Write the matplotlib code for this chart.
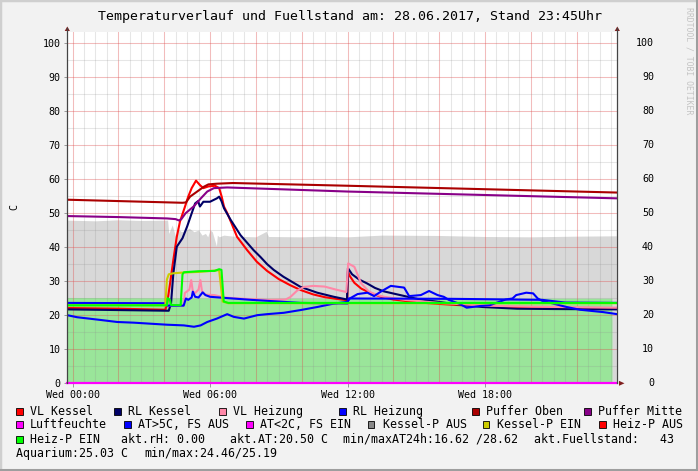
# -*- coding: utf-8 -*-
#
# RRDtool-Grafik nachbauen: Temperaturverlauf und Fuellstand
#

import matplotlib
matplotlib.use("Agg")
import matplotlib.pyplot as plt
import matplotlib.transforms as mtransforms
from matplotlib.lines import Line2D
from matplotlib.patches import Rectangle, Polygon

#======================================================================================================
### Daten (x = Stunden seit Mittwoch 00:00)
#======================================================================================================
x_ticks = [0, 6, 12, 18]
x_labels = ['Wed 00:00', 'Wed 06:00', 'Wed 12:00', 'Wed 18:00']
y_ticks = [0, 10, 20, 30, 40, 50, 60, 70, 80, 90, 100]

# Fuellstand (graue Flaeche)
fuell_h = [-0.23, 1.0, 2.0, 3.0, 4.15, 4.2, 4.35, 4.5, 4.6, 4.75, 4.9, 5.1, 5.3, 5.5, 5.65, 5.8,
           5.9, 6.0, 6.1, 6.28, 6.32, 6.4, 6.6, 7.0, 8.0, 8.45, 8.55, 10.0, 11.0, 12.0, 13.5,
           16.0, 18.0, 20.0, 22.0, 23.73]
fuell_v = [47.9, 47.7, 48.0, 47.8, 47.9, 44.0, 46.5, 43.0, 45.5, 44.5, 44.8, 45.5, 44.5, 45.0,
           43.5, 44.0, 43.0, 45.0, 44.5, 40.3, 43.5, 43.0, 43.5, 43.2, 43.0, 44.6, 43.1, 43.0,
           43.2, 43.0, 43.5, 43.4, 43.1, 43.0, 43.2, 43.3]

# Aquarium (gruene Flaeche)
aqua_h = [-0.23, 4.0, 8.0, 12.0, 16.0, 20.0, 23.54]
aqua_v = [25.2, 25.1, 25.0, 25.0, 25.1, 25.0, 25.0]

vl_kessel_h = [-0.23, 2.0, 4.05, 4.12, 4.25, 4.4, 4.55, 4.69, 4.91, 5.05, 5.2, 5.39, 5.56, 5.71,
               5.93, 6.22, 6.4, 6.51, 6.61, 6.75, 6.95, 7.18, 7.62, 8.04, 8.49, 9.0, 9.5, 9.95,
               10.5, 11.0, 11.5, 11.98, 12.02, 12.1, 12.3, 12.6, 13.0, 13.5, 14.0, 15.0, 16.0,
               17.0, 18.0, 19.0, 20.0, 21.0, 22.0, 23.0, 23.77]
vl_kessel_v = [22.1, 21.9, 21.6, 23.0, 29.0, 36.2, 43.0, 47.5, 51.9, 54.8, 57.3, 59.5, 58.2, 57.3,
               57.8, 58.0, 57.3, 54.8, 51.9, 50.0, 46.8, 43.0, 39.1, 35.7, 33.0, 30.6, 28.8, 27.4,
               26.1, 25.3, 24.8, 24.4, 32.8, 31.5, 29.5, 27.8, 26.5, 25.3, 24.6, 23.8, 23.3,
               22.9, 22.6, 22.4, 22.3, 22.2, 22.1, 22.1, 22.0]

rl_kessel_h = [-0.23, 2.0, 4.2, 4.3, 4.4, 4.55, 4.8, 5.0, 5.2, 5.35, 5.48, 5.56, 5.71, 6.0, 6.3,
               6.4, 6.5, 6.61, 6.9, 7.33, 7.9, 8.2, 8.49, 8.78, 9.2, 9.95, 10.68, 11.4, 11.98,
               12.02, 12.2, 12.5, 12.86, 13.2, 13.58, 14.3, 15.03, 16.5, 17.9, 19.4, 21.0, 23.77]
rl_kessel_v = [21.7, 21.5, 21.3, 23.5, 32.2, 40.1, 42.6, 46.0, 49.9, 52.8, 53.5, 51.9, 53.3, 53.3,
               54.3, 54.8, 53.5, 51.4, 48.0, 43.5, 39.1, 37.1, 35.0, 33.3, 31.3, 28.3, 26.6, 25.4,
               24.6, 33.8, 32.0, 30.5, 29.3, 28.0, 27.0, 25.9, 24.8, 23.4, 22.4, 21.9, 21.8, 21.7]

vl_heizung_h = [-0.23, 4.1, 4.15, 4.85, 4.9, 5.0, 5.1, 5.18, 5.25, 5.35, 5.5, 5.58, 5.65, 5.8,
                6.2, 6.6, 7.5, 8.5, 9.3, 9.5, 9.8, 10.1, 10.5, 11.0, 11.5, 11.95, 12.03, 12.3,
                12.6, 12.94, 13.3, 13.6, 14.5, 16.0, 18.0, 20.0, 23.77]
vl_heizung_v = [23.5, 23.5, 22.8, 22.8, 26.5, 27.0, 27.5, 30.3, 27.0, 26.5, 27.5, 30.3, 27.0, 26.0,
                25.9, 25.2, 24.8, 24.5, 24.6, 25.3, 27.2, 28.3, 28.6, 28.4, 27.5, 26.8, 35.2, 34.2,
                29.3, 26.9, 25.9, 25.4, 24.5, 23.6, 22.8, 22.5, 22.2]

rl_heizung_h = [-0.23, 4.1, 4.15, 4.85, 4.95, 5.05, 5.2, 5.25, 5.35, 5.5, 5.68, 5.8, 6.0, 6.58,
                7.8, 9.95, 12.0, 12.05, 16.5, 20.5, 21.5, 23.77]
rl_heizung_v = [23.6, 23.5, 22.8, 22.8, 24.9, 24.5, 25.2, 26.9, 25.4, 25.2, 26.7, 25.9, 25.4, 25.1,
                24.5, 23.6, 23.4, 24.9, 24.8, 24.5, 23.7, 23.6]

puffer_oben_h = [-0.23, 4.8, 4.95, 5.13, 5.44, 5.73, 5.93, 6.3, 7.0, 12.0, 17.9, 23.77]
puffer_oben_v = [53.9, 53.0, 53.1, 54.8, 56.3, 57.7, 58.4, 58.6, 58.8, 58.0, 57.0, 56.0]

puffer_mitte_h = [-0.23, 2.0, 4.13, 4.5, 4.65, 4.75, 4.93, 5.3, 5.6, 5.88, 6.17, 6.75, 12.0, 17.9,
                  23.77]
puffer_mitte_v = [49.1, 48.8, 48.4, 48.2, 47.8, 48.2, 49.9, 52.0, 54.3, 56.3, 57.3, 57.5, 56.3,
                  55.3, 54.3]

luft_h = [-0.23, 23.77]
luft_v = [0.0, 0.0]

# Aussentemperatur
at_h = [-0.23, 0.2, 1.22, 1.95, 2.68, 3.4, 4.13, 4.86, 5.3, 5.59, 5.88, 6.3, 6.75, 7.04, 7.48,
        8.06, 8.49, 9.22, 9.95, 10.68, 11.4, 11.99, 12.1, 12.44, 12.87, 13.16, 13.45, 13.89,
        14.47, 14.69, 15.2, 15.56, 15.93, 16.2, 16.42, 16.9, 17.2, 17.8, 18.2, 18.9, 19.2,
        19.36, 19.8, 20.1, 20.3, 20.5, 20.98, 21.56, 22.14, 22.72, 23.16, 23.77]
at_v = [20.0, 19.4, 18.6, 18.0, 17.8, 17.5, 17.2, 17.0, 16.6, 17.0, 18.0, 19.0, 20.3, 19.5, 19.0,
        20.0, 20.3, 20.7, 21.5, 22.4, 23.4, 23.9, 24.9, 26.2, 26.6, 25.6, 26.9, 28.6,
        28.1, 25.6, 25.9, 27.1, 25.9, 25.4, 24.5, 23.3, 22.2, 22.7, 22.9, 24.6, 24.9,
        25.9, 26.6, 26.4, 24.9, 24.2, 23.4, 22.4, 21.6, 21.2, 20.9, 20.3]

kessel_p_h = [-0.23, 4.05, 4.12, 4.2, 4.4, 4.78, 5.5, 6.4, 6.55, 6.8, 23.77]
kessel_p_v = [22.9, 22.9, 30.5, 32.0, 32.3, 32.5, 32.7, 33.2, 24.0, 23.5, 23.5]

heiz_p_h = [-0.23, 4.12, 4.15, 4.25, 4.3, 4.72, 4.8, 4.86, 5.5, 6.2, 6.4, 6.5, 6.6, 6.8, 12.0, 23.77]
heiz_p_v = [22.9, 22.9, 25.0, 24.5, 23.0, 22.9, 32.0, 32.6, 32.9, 33.0, 33.5, 33.3, 24.0, 23.6,
            23.6, 23.6]

# Legende
legend_rows = [
    [('VL Kessel', '#FF0000', 16, 30), ('RL Kessel', '#000066', 114, 128),
     ('VL Heizung', '#FF88A8', 219, 233), ('RL Heizung', '#0000FF', 339, 353),
     ('Puffer Oben', '#AA0000', 472, 486), ('Puffer Mitte', '#880088', 584, 598)],
    [('Luftfeuchte', '#FF00FF', 16, 30), ('AT>5C, FS AUS', '#0000FF', 124, 138),
     ('AT<2C, FS EIN', '#FF00FF', 246, 260), ('Kessel-P AUS', '#888888', 368, 383),
     ('Kessel-P EIN', '#CCCC00', 483, 497), ('Heiz-P AUS', '#FF0000', 599, 613)],
]
info_row3 = [('akt.rH: 0.00', 121), ('akt.AT:20.50 C', 230),
             ('min/maxAT24h:16.62 /28.62', 343), ('akt.Fuellstand:   43', 534)]
info_row4 = [('Aquarium:25.03 C', 16), ('min/max:24.46/25.19', 144)]

#======================================================================================================
### Zeichnen
#======================================================================================================
W, H = 698, 471
plt.rcParams['font.family'] = 'DejaVu Sans Mono'

def fx(x):
    return x / W

def fy(y):
    return 1 - y / H

fig = plt.figure(figsize=(W / 100, H / 100), dpi=100)
fig.patch.set_facecolor('#F2F2F2')

# Rahmen
fig.add_artist(Rectangle((0, 0), 1, 1, transform=fig.transFigure, fill=False, edgecolor='#CFCFCF', lw=2.5))
fig.add_artist(Line2D([0, 1], [fy(469.5), fy(469.5)], color='#9E9E9E', lw=2.2))
fig.add_artist(Line2D([fx(696.5), fx(696.5)], [0, 1], color='#9E9E9E', lw=2.2))

ax = fig.add_axes([fx(67.3), fy(383.3), (617.3 - 67.3) / W, (383.3 - 32.3) / H])
ax.set_xlim(-0.227, 23.773)
ax.set_ylim(0, 103.05)
for s in ax.spines.values():
    s.set_visible(False)

# Flaechen
ax.fill_between(fuell_h, 0, fuell_v, color='#D8D8D8', lw=0, zorder=1)
ax.fill_between(aqua_h, 0, aqua_v, color='#9AE59A', lw=0, zorder=1.1)

# Gitter
gray = (0.56, 0.56, 0.56, 0.22)
red = (0.87, 0.31, 0.31, 0.38)
for i in range(48):
    h = i * 0.5
    ax.axvline(h, color=red if i % 4 == 0 else gray, lw=0.75, zorder=2)
for v in range(5, 105, 5):
    ax.axhline(v, color=red if v % 10 == 0 else gray, lw=0.75, zorder=2)

# Linien
lw = 1.5
ax.plot(vl_kessel_h, vl_kessel_v, color='#FF0000', lw=lw, zorder=3)
ax.plot(rl_kessel_h, rl_kessel_v, color='#000066', lw=lw, zorder=3)
ax.plot(vl_heizung_h, vl_heizung_v, color='#FF88A8', lw=lw, zorder=3)
ax.plot(rl_heizung_h, rl_heizung_v, color='#0000FF', lw=lw, zorder=3)
ax.plot(puffer_oben_h, puffer_oben_v, color='#AA0000', lw=lw, zorder=3)
ax.plot(puffer_mitte_h, puffer_mitte_v, color='#880088', lw=lw, zorder=3)
ax.plot(at_h, at_v, color='#0000FF', lw=lw, zorder=3)
ax.plot(kessel_p_h, kessel_p_v, color='#CCCC00', lw=lw, zorder=3)
ax.plot(heiz_p_h, heiz_p_v, color='#00FF00', lw=lw, zorder=3)
ax.plot(luft_h, luft_v, color='#FF00FF', lw=1.6, zorder=4, clip_on=False)

# Achsen
ax.set_xticks(x_ticks, x_labels)
ax.set_yticks(y_ticks, [str(v) for v in y_ticks])
ax.tick_params(axis='y', length=2.5, width=0.7, color='#999999', pad=2.5, labelsize=7.2)
ax.tick_params(axis='x', length=3, width=0.7, color='#999999', pad=1.5, labelsize=7.2)
trans = mtransforms.blended_transform_factory(ax.transAxes, ax.transData)
for v in y_ticks:
    ax.text(1.0667, v, str(v), transform=trans, ha='right', va='center', fontsize=7.2)

axis_col = '#444444'
arrow_col = '#801F1F'
for xa in (67.3, 617.3):
    fig.add_artist(Line2D([fx(xa), fx(xa)], [fy(383.3), fy(28)], color=axis_col, lw=0.9))
    fig.add_artist(Polygon([(fx(xa - 2.6), fy(31)), (fx(xa + 2.6), fy(31)), (fx(xa), fy(26.5))],
                           closed=True, transform=fig.transFigure, color=arrow_col, lw=0))
fig.add_artist(Polygon([(fx(619), fy(380.8)), (fx(619), fy(385.8)), (fx(624.5), fy(383.3))],
                       closed=True, transform=fig.transFigure, color=arrow_col, lw=0))

# Texte
fig.text(fx(350), fy(16.5), 'Temperaturverlauf und Fuellstand am: 28.06.2017, Stand 23:45Uhr',
         ha='center', va='center', fontsize=9.5)
fig.text(fx(14), fy(206.7), 'C', ha='center', va='center', rotation=90, fontsize=7.2)
fig.text(fx(688.5), fy(61), 'RRDTOOL / TOBI OETIKER', ha='center', va='center', rotation=270,
         fontsize=5.9, color='#C4C4C4')

row_y = [411.3, 424.9, 439.3, 453.3]
for r, items in enumerate(legend_rows):
    for label, col, xs, xt in items:
        fig.add_artist(Rectangle((fx(xs), fy(row_y[r] + 3.5)), 6.5 / W, 7 / H, transform=fig.transFigure,
                                 facecolor=col, edgecolor='black', lw=0.6))
        fig.text(fx(xt), fy(row_y[r]), label, ha='left', va='center', fontsize=8.4)
fig.add_artist(Rectangle((fx(16), fy(row_y[2] + 3.5)), 6.5 / W, 7 / H, transform=fig.transFigure,
                         facecolor='#00FF00', edgecolor='black', lw=0.6))
fig.text(fx(30), fy(row_y[2]), 'Heiz-P EIN', ha='left', va='center', fontsize=8.4)
for label, xt in info_row3:
    fig.text(fx(xt), fy(row_y[2]), label, ha='left', va='center', fontsize=8.4)
for label, xt in info_row4:
    fig.text(fx(xt), fy(row_y[3]), label, ha='left', va='center', fontsize=8.4)

fig.savefig('out.png', dpi=100, facecolor=fig.get_facecolor())
